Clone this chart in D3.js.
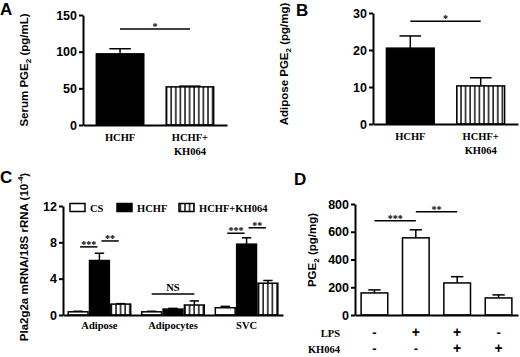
<!DOCTYPE html>
<html>
<head>
<meta charset="utf-8">
<script src="https://cdn.jsdelivr.net/npm/d3@7"></script>
<style>
  body { margin: 0; background: #fff; }
  svg { display: block; }
  .tick text { font-family: "Liberation Sans", Arial, sans-serif; font-weight: bold; font-size: 12.5px; fill: #000; }
  .cat { font-family: "Liberation Serif", "Times New Roman", serif; font-weight: bold; font-size: 10.5px; }
  .ylab { font-family: "Liberation Sans", Arial, sans-serif; font-weight: bold; font-size: 11.5px; }
  .letter { font-family: "Liberation Sans", Arial, sans-serif; font-weight: bold; font-size: 17px; }
  .star { font-family: "Liberation Serif", serif; font-weight: bold; font-size: 10px; }
</style>
</head>
<body>
<svg id="chart" width="520" height="357"></svg>
<script>
// ---- data ----
const aGroups = ["HCHF", "HCHF+KH064"];
const aMean = [97, 52];
const aErr = [7, 1];
const aTicks = [0, 50, 100, 150];
const aSig = [[0, 1, "*", 131]];

const bGroups = ["HCHF", "HCHF+KH064"];
const bMean = [20.5, 10.3];
const bErr = [3.3, 2.2];
const bTicks = [0, 10, 20, 30];
const bSig = [[0, 1, "*", 27.8]];

const cTissues = ["Adipose", "Adipocytes", "SVC"];
const cSeries = ["CS", "HCHF", "HCHF+KH064"];
const cMean = [[0.35, 6.0, 1.2], [0.35, 0.65, 1.1], [0.8, 7.8, 3.5]];
const cErr = [[0.06, 0.8, 0.05], [0.06, 0.08, 0.45], [0.15, 0.7, 0.3]];
const cTicks = [0, 4, 8, 12];
// [tissue, seriesFrom, seriesTo, label, y]
const cSig = [[0, 0, 1, "***", 7.5], [0, 1, 2, "**", 8.15], [1, 0, 2, "NS", 2.3],
              [2, 0, 1, "***", 9.0], [2, 1, 2, "**", 9.6]];

const dMean = [159, 556, 231, 123];
const dErr = [22, 58, 45, 22];
const dLPS = ["-", "+", "+", "-"];
const dKH = ["-", "-", "+", "+"];
const dTicks = [0, 200, 400, 600, 800];
const dSig = [[0, 1, "***", 679], [1, 2, "**", 744]];

const svg = d3.select("#chart");

// vertical stripe pattern
const defs = svg.append("defs");
const pat = defs.append("pattern").attr("id", "stripes")
  .attr("patternUnits", "userSpaceOnUse").attr("width", 4.6).attr("height", 10);
pat.append("rect").attr("width", 4.6).attr("height", 10).attr("fill", "#fff");
pat.append("line").attr("x1", 1).attr("x2", 1).attr("y1", 0).attr("y2", 10)
  .attr("stroke", "#000").attr("stroke-width", 1.4);

function fillFor(name) {
  if (name === "HCHF") return "#000";
  if (name === "HCHF+KH064") return "url(#stripes)";
  return "#fff";
}

function yAxis(g, y, ticks, x0) {
  g.append("g").attr("transform", `translate(${x0},0)`)
    .call(d3.axisLeft(y).tickValues(ticks).tickSize(4).tickSizeOuter(0).tickPadding(2))
    .call(s => s.selectAll("path, line").attr("stroke", "#000").attr("stroke-width", 2));
}

function xAxis(g, x, yBase) {
  g.append("g").attr("transform", `translate(0,${yBase})`)
    .call(d3.axisBottom(x).tickSize(0).tickSizeOuter(0).tickFormat(""))
    .call(s => s.select("path").attr("stroke", "#000").attr("stroke-width", 2));
}

function bar(g, cx, w, y, v, e, fill) {
  g.append("line").attr("x1", cx).attr("x2", cx)
    .attr("y1", y(v)).attr("y2", y(v + e)).attr("stroke", "#000").attr("stroke-width", 1.5);
  g.append("line").attr("x1", cx - w * 0.22).attr("x2", cx + w * 0.22)
    .attr("y1", y(v + e)).attr("y2", y(v + e)).attr("stroke", "#000").attr("stroke-width", 1.5);
  g.append("rect").attr("x", cx - w / 2 + 0.75).attr("width", w - 1.5)
    .attr("y", y(v)).attr("height", y(0) - y(v))
    .attr("fill", fill).attr("stroke", "#000").attr("stroke-width", 1.5);
}

function sig(g, xa, xb, yy, label) {
  g.append("line").attr("x1", xa).attr("x2", xb).attr("y1", yy).attr("y2", yy)
    .attr("stroke", "#000").attr("stroke-width", 1.5);
  g.append("text").attr("class", label === "NS" ? "cat" : "star")
    .attr("x", (xa + xb) / 2).attr("y", label === "NS" ? yy - 3 : yy + 1)
    .attr("text-anchor", "middle").text(label);
}

function yLabel(g, cx, cy, parts) {
  const t = g.append("text").attr("class", "ylab")
    .attr("transform", `translate(${cx},${cy}) rotate(-90)`)
    .attr("text-anchor", "middle").attr("dy", "0.35em");
  parts.forEach(p => {
    const ts = t.append("tspan").text(p[0]);
    if (p[1] === "sub") ts.attr("font-size", "8px").attr("dy", "3");
    if (p[1] === "sup") ts.attr("font-size", "8px").attr("dy", "-5");
    if (p[1] === "back") ts.attr("dy", "-3");
    if (p[1] === "down") ts.attr("dy", "5");
  });
}

function twoBarPanel(groups, mean, err, ticks, sigs, o) {
  const g = svg.append("g");
  const y = d3.scaleLinear().domain([0, ticks[ticks.length - 1]]).range([o.yBase, o.yTop]);
  const x = d3.scaleBand().domain(groups).range([o.x0, o.x1]).paddingInner(0.3).paddingOuter(0.18);
  groups.forEach((c, i) => bar(g, x(c) + x.bandwidth() / 2, x.bandwidth(), y, mean[i], err[i], fillFor(c)));
  xAxis(g, x, o.yBase);
  yAxis(g, y, ticks, o.x0);
  sigs.forEach(s => sig(g, x(groups[s[0]]) + x.bandwidth() / 2, x(groups[s[1]]) + x.bandwidth() / 2, y(s[3]), s[2]));
  groups.forEach(c => {
    const t = g.append("text").attr("class", "cat").attr("text-anchor", "middle")
      .attr("x", x(c) + x.bandwidth() / 2).attr("y", o.yBase + 16);
    const lines = c === "HCHF+KH064" ? ["HCHF+", "KH064"] : [c];
    lines.forEach((l, k) => t.append("tspan").attr("x", x(c) + x.bandwidth() / 2)
      .attr("dy", k ? 14 : 0).text(l));
  });
  return g;
}

// ---- Panel A ----
const gA = twoBarPanel(aGroups, aMean, aErr, aTicks, aSig, { x0: 83, x1: 227, yBase: 125, yTop: 15 });
yLabel(gA, 24, 70, [["Serum PGE"], ["2", "sub"], [" (pg/mL)", "back"]]);
svg.append("text").attr("class", "letter").attr("x", 0).attr("y", 15).text("A");

// ---- Panel B ----
const gB = twoBarPanel(bGroups, bMean, bErr, bTicks, bSig, { x0: 373, x1: 518, yBase: 124, yTop: 13 });
yLabel(gB, 284, 64, [["Adipose PGE"], ["2", "sub"], [" (pg/mg)", "back"]]);
svg.append("text").attr("class", "letter").attr("x", 296).attr("y", 16).text("B");

// ---- Panel C ----
{
  const g = svg.append("g");
  const y = d3.scaleLinear().domain([0, 12]).range([315, 206]);
  const x = d3.scaleBand().domain(cTissues).range([63, 283]).paddingInner(0.13).paddingOuter(0.06);
  const xs = d3.scaleBand().domain(cSeries).range([0, x.bandwidth()]);
  const cxOf = (t, s) => x(cTissues[t]) + xs(cSeries[s]) + xs.bandwidth() / 2;
  cTissues.forEach((t, i) => cSeries.forEach((s, j) =>
    bar(g, cxOf(i, j), xs.bandwidth(), y, cMean[i][j], cErr[i][j], fillFor(s))));
  xAxis(g, x, 315);
  yAxis(g, y, cTicks, 63);
  cSig.forEach(s => {
    const inset = s[3] === "NS" ? 0 : 2;
    sig(g, cxOf(s[0], s[1]) + inset, cxOf(s[0], s[2]) - inset, y(s[4]), s[3]);
  });
  cTissues.forEach(t => g.append("text").attr("class", "cat").attr("text-anchor", "middle")
    .attr("x", x(t) + x.bandwidth() / 2).attr("y", 329).text(t));
  // legend
  const legX = [70, 117, 179];
  cSeries.forEach((s, i) => {
    g.append("rect").attr("x", legX[i]).attr("y", 203.5).attr("width", 15).attr("height", 8)
      .attr("fill", fillFor(s)).attr("stroke", "#000").attr("stroke-width", 1.5);
    g.append("text").attr("class", "cat").attr("x", legX[i] + 20).attr("y", 211.5).text(s);
  });
  yLabel(g, 24, 257, [["Pla2g2a mRNA/18S rRNA (10"], ["-4", "sup"], [")", "down"]]);
  svg.append("text").attr("class", "letter").attr("x", 0).attr("y", 183).text("C");
}

// ---- Panel D ----
{
  const g = svg.append("g");
  const idx = dMean.map((d, i) => i);
  const y = d3.scaleLinear().domain([0, 800]).range([315, 204]);
  const x = d3.scaleBand().domain(idx).range([355, 518]).paddingInner(0.32).paddingOuter(0.13);
  const cx = i => x(i) + x.bandwidth() / 2;
  idx.forEach(i => bar(g, cx(i), x.bandwidth(), y, dMean[i], dErr[i], "#fff"));
  xAxis(g, x, 315);
  yAxis(g, y, dTicks, 355);
  dSig.forEach(s => sig(g, cx(s[0]), cx(s[1]), y(s[3]), s[2]));
  [["LPS", dLPS, 337], ["KH064", dKH, 353]].forEach(r => {
    g.append("text").attr("class", "cat").attr("text-anchor", "end")
      .attr("x", 340).attr("y", r[2]).text(r[0]);
    r[1].forEach((m, i) => g.append("text").attr("text-anchor", "middle")
      .attr("x", cx(i)).attr("y", r[2])
      .style("font-family", "Liberation Sans, sans-serif").style("font-weight", "bold")
      .style("font-size", m === "+" ? "14px" : "13px").text(m));
  });
  yLabel(g, 312, 250, [["PGE"], ["2", "sub"], ["  (pg/mg)", "back"]]);
  svg.append("text").attr("class", "letter").attr("x", 294).attr("y", 185).text("D");
}
</script>
</body>
</html>
